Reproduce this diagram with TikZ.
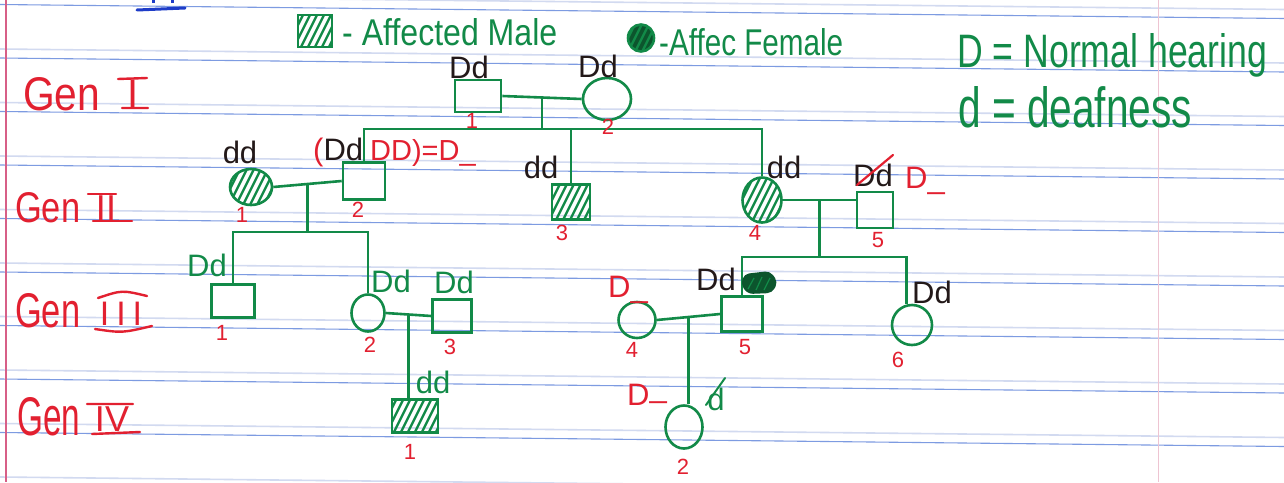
\documentclass[tikz,border=0pt]{standalone}
\usepackage{graphicx}
\usepackage{fontspec}
\setmainfont{Liberation Sans}
\usetikzlibrary{shapes.geometric,calc}
\definecolor{pen}{RGB}{18,138,72}
\definecolor{pendark}{RGB}{12,85,45}
\definecolor{redpen}{RGB}{226,32,48}
\definecolor{inkblack}{RGB}{35,25,25}
\definecolor{rulec}{RGB}{125,155,225}
\definecolor{rulefaint}{RGB}{210,218,240}
\definecolor{marginc}{RGB}{215,95,135}
\definecolor{marginfaint}{RGB}{238,196,210}
\definecolor{bluepen}{RGB}{30,60,200}
\newcommand{\fitbox}[3]{\resizebox{#1pt}{#2pt}{#3}}
\tikzset{
  sym/.style={draw=pen, line width=2.6pt, inner sep=0pt},
  male/.style={sym, rectangle},
  female/.style={sym, ellipse},
  affected/.style={path picture={\foreach \i in {-80,-73,...,80} \draw[pen, line width=2.4pt] ([shift={(\i pt,-50pt)}]path picture bounding box.center) -- ++(50pt,100pt);}},
  link/.style={draw=pen, line width=2.6pt},
  geno/.style={font=\fontsize{31}{31}\selectfont, inner sep=0pt, text=inkblack, anchor=base},
  genog/.style={geno, text=pen},
  genor/.style={geno, text=redpen},
  num/.style={font=\fontsize{22}{22}\selectfont, inner sep=0pt, text=redpen},
  gen/.style={inner sep=0pt, text=redpen, anchor=base west},
  roman/.style={inner sep=0pt, text=redpen, anchor=base},
  bar/.style={draw=redpen, line width=2.4pt, line cap=round},
  legtext/.style={inner sep=0pt, text=pen, anchor=base west},
}
\begin{document}
\begin{tikzpicture}[x=1pt,y=-1pt]
\useasboundingbox (0,0) rectangle (1284,482);
\fill[white] (0,0) rectangle (1284,482);
% ruled paper
\foreach \k in {0,...,9} {
  \draw[rulefaint, line width=1.6pt] (0,{4.5+53.5*\k-9}) -- (1284,{4.5+53.5*\k-9+14});
  \draw[rulec, line width=1.1pt] (0,{4.5+53.5*\k}) -- (1284,{4.5+53.5*\k+14});
}
\draw[marginc, line width=1.5pt] (6,0) -- (6,482);
\draw[marginfaint, line width=1pt] (1158,0) -- (1158,482);
% blue pen mark at top
\draw[bluepen, line width=3pt, line cap=round] (137,10) -- (185,8);
\draw[bluepen, line width=3pt] (153,0) -- (153,3) (172,0) -- (172,3);

% generation labels
\node[gen] (g1) at (23,110) {\fitbox{77}{33}{Gen}};
\node[roman, font=\fontsize{40}{40}\selectfont] (g1n) at (133,107) {I};
\draw[bar] (118,79) -- (147,78) (122,108) -- (148,108);
\node[gen] (g2) at (15,222) {\fitbox{65}{30}{Gen}};
\node[roman, font=\fontsize{36}{36}\selectfont] (g2n) at (106,220) {II};
\draw[bar] (88,194) -- (116,194) (93,221) -- (132,221);
\node[gen] (g3) at (15,327) {\fitbox{65}{34}{Gen}};
\node[roman, font=\fontsize{34}{34}\selectfont] (g3n) at (121,325) {I\kern7pt I\kern7pt I};
\draw[bar] (98,298) .. controls (122,290) .. (147,296);
\draw[bar] (95,329) .. controls (122,333) .. (152,326);
\node[gen] (g4) at (17,435) {\fitbox{63}{38}{Gen}};
\node[roman, font=\fontsize{36}{36}\selectfont] (g4n) at (112,431) {IV};
\draw[bar] (87,404) -- (133,404) (92,434) -- (140,432);

% legend
\node[male, affected, minimum width=34pt, minimum height=32pt] (legM) at (315,31) {};
\node[legtext] (legMt) at (342,45) {\fitbox{215}{27}{- Affected Male}};
\node[female, affected, fill=pendark, minimum width=26pt, minimum height=27pt] (legF) at (641,38) {};
\node[legtext] (legFt) at (659,55) {\fitbox{184}{27}{-Affec Female}};
\node[legtext] (key1) at (957,67) {\fitbox{310}{34}{D = Normal hearing}};
\node[legtext] (key2) at (958,127) {\fitbox{234}{41}{d = deafness}};

% Gen I
\node[male, minimum width=46pt, minimum height=32pt] (I1) at (478,96) {};
\node[female, minimum width=48pt, minimum height=42pt] (I2) at (607,99) {};
% Gen II
\node[female, affected, minimum width=42pt, minimum height=36pt] (II1) at (251,187) {};
\node[male, minimum width=42pt, minimum height=37pt] (II2) at (364,181) {};
\node[male, affected, minimum width=38pt, minimum height=35pt] (II3) at (571,202) {};
\node[female, affected, minimum width=39pt, minimum height=45pt] (II4) at (762,200) {};
\node[male, minimum width=36pt, minimum height=36pt] (II5) at (875,210) {};
% Gen III
\node[male, minimum width=43pt, minimum height=33pt] (III1) at (233,301) {};
\node[female, minimum width=33pt, minimum height=37pt] (III2) at (368,313) {};
\node[male, minimum width=39pt, minimum height=33pt] (III3) at (452,316) {};
\node[female, minimum width=37pt, minimum height=36pt] (III4) at (637,320) {};
\node[male, minimum width=41pt, minimum height=35pt] (III5) at (742,314) {};
\node[female, minimum width=40pt, minimum height=40pt] (III6) at (912,325) {};
% Gen IV
\node[male, affected, minimum width=46pt, minimum height=33pt] (IV1) at (415,416) {};
\node[female, minimum width=37pt, minimum height=43pt] (IV2) at (684,427) {};

% connectors
\coordinate (m1) at ($(I1.east)!0.5!(I2.west)$);
\coordinate (s1) at (544,129);
\draw[link] (I1.east) -- (I2.west);
\draw[link] (m1) -- (m1 |- s1);
\draw[link] (II2.north) -- (II2.north |- s1) -- (II4.north |- s1) -- (II4.north);
\draw[link] (II3.north |- s1) -- (II3.north);

\coordinate (m2) at ($(II1.east)!0.5!(II2.west)$);
\coordinate (s2) at (307,232);
\draw[link] (II1.east) -- (II2.west);
\draw[link] (m2) -- (m2 |- s2);
\draw[link] (III1.north) -- (III1.north |- s2) -- (III2.north |- s2) -- (III2.north);

\coordinate (m3) at ($(II4.east)!0.5!(II4.east -| II5.west)$);
\coordinate (s3) at (820,257);
\draw[link] (II4.east) -- (II4.east -| II5.west);
\draw[link] (m3) -- (m3 |- s3);
\draw[link] (III5.north) -- (III5.north |- s3) -- (III6.105 |- s3) -- (III6.105);

\coordinate (m4) at ($(III2.east)!0.5!(III3.west)$);
\draw[link] (III2.east) -- (III3.west);
\draw[link] (m4) -- (m4 |- IV1.north);
\coordinate (m5) at ($(III4.east)!0.5!(III5.west)$);
\draw[link] (III4.east) -- (III5.west);
\draw[link] (m5) -- (m5 |- IV2.north);

% genotype labels
\node[geno] (lI1) at (469,78) {Dd};
\node[geno] (lI2) at (598,77) {Dd};
\node[geno] (lII1) at (240,163) {dd};
\node[geno, anchor=base west] (lII2) at (313,160) {{\color{redpen}(}Dd};
\node[genor, anchor=base west, font=\fontsize{29}{29}\selectfont] (lII2b) at (370,160) {DD)=D\_};
\node[geno] (lII3) at (541,178) {dd};
\node[geno] (lII4) at (784,178) {dd};
\node[geno] (lII5) at (873,186) {Dd};
\draw[redpen, line width=2.2pt, line cap=round] (857,185) -- (893,155);
\node[genor, anchor=base west] (lII5b) at (905,188) {D\_};
\node[genog] (lIII1) at (207,276) {Dd};
\node[genog] (lIII2) at (391,292) {Dd};
\node[genog] (lIII3) at (454,293) {Dd};
\node[genog] (lIV1) at (433,393) {dd};
\node[genor, anchor=base west] (lIII4) at (608,297) {D\_};
\node[geno] (lIII5) at (716,290) {Dd};
\node[geno] (lIII6) at (932,303) {Dd};
\node[genor, anchor=base west] (lIV2) at (627,405) {D\raisebox{8pt}{\_}};
\node[genog] (lIV2b) at (716,410) {d};
\draw[pen, line width=2pt, line cap=round] (706,405) -- (725,378);
% crossed-out scribble beside III-5
\fill[pendark, rounded corners=5pt] (744,274) -- (770,271) -- (778,282) -- (772,293) -- (748,294) -- (741,285) -- cycle;
\draw[pen, line width=1.2pt] (748,289) -- (754,278) (756,290) -- (762,277) (764,290) -- (770,278);

% individual numbers
\node[num] (nI1) at (472,121) {1};
\node[num] (nI2) at (608,127) {2};
\node[num] (nII1) at (242,215) {1};
\node[num] (nII2) at (358,210) {2};
\node[num] (nII3) at (562,233) {3};
\node[num] (nII4) at (755,233) {4};
\node[num] (nII5) at (878,240) {5};
\node[num] (nIII1) at (222,333) {1};
\node[num] (nIII2) at (370,345) {2};
\node[num] (nIII3) at (450,347) {3};
\node[num] (nIII4) at (632,350) {4};
\node[num] (nIII5) at (745,347) {5};
\node[num] (nIII6) at (898,360) {6};
\node[num] (nIV1) at (410,452) {1};
\node[num] (nIV2) at (683,467) {2};
\end{tikzpicture}
\end{document}
